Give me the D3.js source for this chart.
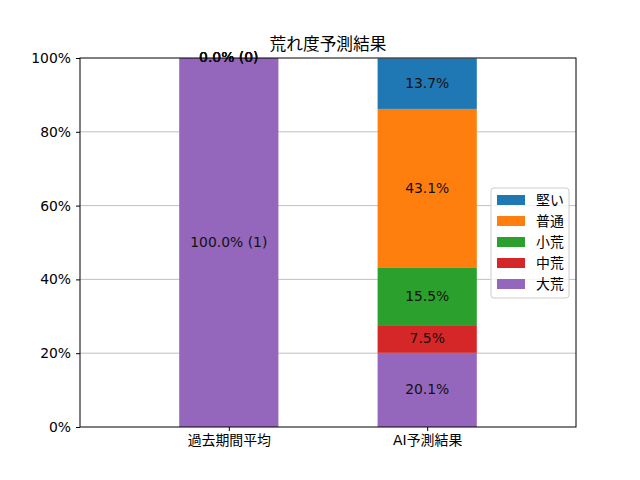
<!DOCTYPE html>
<html>
<head>
<meta charset="utf-8">
<script src="https://cdn.jsdelivr.net/npm/d3@7"></script>
<style>
  body { margin: 0; background: #fff; }
  svg text { font-family: "DejaVu Sans", "Noto Sans CJK JP", sans-serif; }
</style>
</head>
<body>
<svg id="chart" width="640" height="480"></svg>
<script>
// Data
const groups = ["過去期間平均", "AI予測結果"];
// stacking order, bottom to top
const levels = ["大荒", "中荒", "小荒", "普通", "堅い"];
const levelColors = ["#9467bd", "#d62728", "#2ca02c", "#ff7f0e", "#1f77b4"];
const pastValues = [100.0, 0.0, 0.0, 0.0, 0.0];
const pastCounts = [1, 0, 0, 0, 0];
const aiValues = [20.1, 7.5, 15.5, 43.1, 13.7];
const yTicks = [0, 20, 40, 60, 80, 100];
const title = "荒れ度予測結果";

const FONT = "'DejaVu Sans', 'Noto Sans CJK JP', sans-serif";
const FS = "13.9px";

const margin = { top: 58, right: 64, bottom: 53, left: 80 };
const W = 640, H = 480;
const w = W - margin.left - margin.right;
const h = H - margin.top - margin.bottom;

const svg = d3.select("#chart");
const g = svg.append("g").attr("transform", `translate(${margin.left},${margin.top})`);

const x = d3.scaleLinear().domain([-0.75, 1.75]).range([0, w]);
const y = d3.scaleLinear().domain([0, 100]).range([h, 0]);
const barW = x(0.5) - x(0);

// grid lines behind bars
g.selectAll("line.grid")
  .data(yTicks.filter(t => t > 0 && t < 100))
  .enter().append("line")
  .attr("class", "grid")
  .attr("x1", 0).attr("x2", w)
  .attr("y1", d => y(d)).attr("y2", d => y(d))
  .attr("stroke", "#b0b0b0").attr("stroke-width", 0.8);

// stack rows
const rows = [
  { idx: 0, values: pastValues, counts: pastCounts },
  { idx: 1, values: aiValues, counts: null }
];

rows.forEach(row => {
  let acc = 0;
  const segs = row.values.map((v, i) => {
    const s = { level: levels[i], color: levelColors[i], y0: acc, y1: acc + v, v, c: row.counts ? row.counts[i] : null };
    acc += v;
    return s;
  });

  g.selectAll(null).data(segs).enter().append("rect")
    .attr("x", x(row.idx) - barW / 2)
    .attr("width", barW)
    .attr("y", d => y(d.y1))
    .attr("height", d => y(d.y0) - y(d.y1))
    .attr("fill", d => d.color);

  g.selectAll(null).data(segs).enter().append("text")
    .attr("x", x(row.idx))
    .attr("y", d => y((d.y0 + d.y1) / 2))
    .attr("dy", "0.32em")
    .attr("text-anchor", "middle")
    .attr("font-size", FS)
    .attr("fill", "#111")
    .text(d => d.c !== null ? `${d.v.toFixed(1)}% (${d.c})` : `${d.v.toFixed(1)}%`);
});

// spines
g.append("rect").attr("x", 0).attr("y", 0).attr("width", w).attr("height", h)
  .attr("fill", "none").attr("stroke", "#000").attr("stroke-width", 1);

// y axis
const yAxis = g.append("g").call(
  d3.axisLeft(y).tickValues(yTicks).tickFormat(d => d + "%").tickSize(4).tickPadding(5)
);
yAxis.select(".domain").remove();
yAxis.selectAll("text").attr("font-size", FS).attr("fill", "#000")
  .style("font-family", FONT);

// x axis
const xAxis = g.append("g").attr("transform", `translate(0,${h})`).call(
  d3.axisBottom(x).tickValues([0, 1]).tickFormat(i => groups[i]).tickSize(4).tickPadding(4)
);
xAxis.select(".domain").remove();
xAxis.selectAll("text").attr("font-size", FS).attr("fill", "#000")
  .style("font-family", FONT);

// title
svg.append("text")
  .attr("x", margin.left + w / 2).attr("y", 50)
  .attr("text-anchor", "middle")
  .attr("font-size", "16.7px")
  .text(title);

// legend (top level first)
const legendItems = levels.map((l, i) => ({ l, c: levelColors[i] })).reverse();
const lg = g.append("g").attr("transform", `translate(${w - 85},${130})`);
lg.append("rect")
  .attr("x", 0).attr("y", 0).attr("width", 78).attr("height", 110)
  .attr("rx", 3)
  .attr("fill", "#fff").attr("fill-opacity", 0.8)
  .attr("stroke", "#cccccc");
const item = lg.selectAll("g.item").data(legendItems).enter().append("g")
  .attr("transform", (d, i) => `translate(0,${12 + i * 21})`);
item.append("rect").attr("x", 6).attr("y", -5).attr("width", 28).attr("height", 10)
  .attr("fill", d => d.c);
item.append("text").attr("x", 45).attr("y", 0)
  .attr("dy", "0.35em").attr("font-size", FS)
  .text(d => d.l);
</script>
</body>
</html>
